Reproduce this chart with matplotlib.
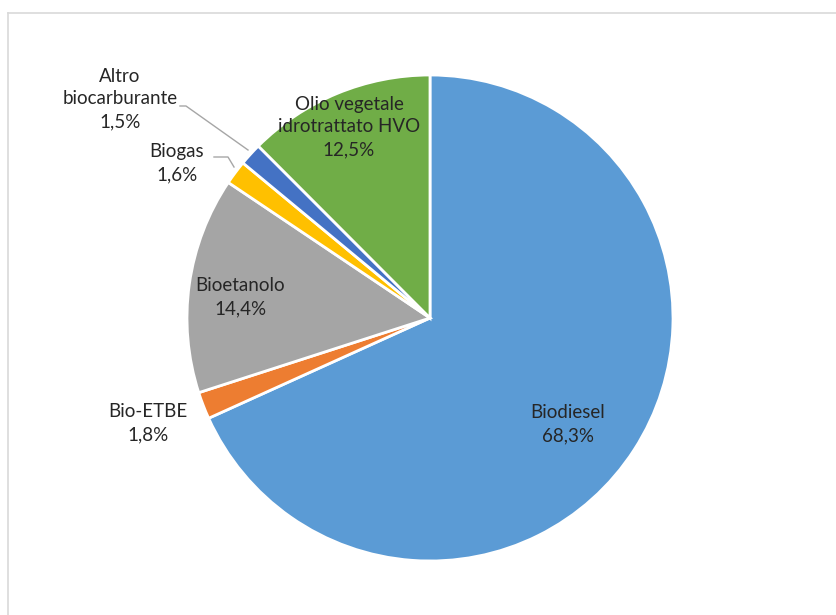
import matplotlib
matplotlib.use("Agg")
import matplotlib.pyplot as plt
from matplotlib.lines import Line2D

categories = ["Biodiesel", "Bio-ETBE", "Bioetanolo", "Biogas", "Altro\nbiocarburante", "Olio vegetale\nidrotrattato HVO"]
values = [68.3, 1.8, 14.4, 1.6, 1.5, 12.5]
value_labels = ["68,3%", "1,8%", "14,4%", "1,6%", "1,5%", "12,5%"]
colors = ["#5B9BD5", "#ED7D31", "#A5A5A5", "#FFC000", "#4472C4", "#70AD47"]

plt.rcParams['font.family'] = ['Lato', 'DejaVu Sans']

W, H = 837, 615
fig = plt.figure(figsize=(W / 100, H / 100), dpi=100)

cx, cy, r = 430, 318, 243
ax = fig.add_axes([(cx - r) / W, (H - cy - r) / H, 2 * r / W, 2 * r / H])
ax.pie(values, colors=colors, startangle=90, counterclock=False,
       wedgeprops=dict(edgecolor="white", linewidth=2), radius=1)
ax.set_xlim(-1, 1)
ax.set_ylim(-1, 1)
ax.set_aspect("equal")
ax.axis("off")

def px(x, y):
    return ((x - cx) / r, (cy - y) / r)

# label positions (in pixel coords, converted to data)
label_pos = [(568, 424), (148, 423), (240, 297), (177, 163), (120, 99), (349, 127)]
txtcol = "#262626"
for cat, vl, (lx, ly) in zip(categories, value_labels, label_pos):
    x, y = px(lx, ly)
    ax.text(x, y, f"{cat}\n{vl}", ha="center", va="center", fontsize=13.5,
            color=txtcol, linespacing=1.42, clip_on=False)

# leader lines
lc = "#A6A6A6"
for pts in [[(180, 106), (186, 106), (248, 150)], [(214, 157), (228, 157), (234, 167)]]:
    xs, ys = zip(*[px(a, b) for a, b in pts])
    ax.add_line(Line2D(xs, ys, color=lc, linewidth=1, clip_on=False))

# outer frame (partially visible)
fig.add_artist(Line2D([8.5 / W, 1.0], [1 - 12.5 / H, 1 - 12.5 / H], transform=fig.transFigure, color="#D9D9D9", linewidth=1.2))
fig.add_artist(Line2D([8.5 / W, 8.5 / W], [0, 1 - 12.5 / H], transform=fig.transFigure, color="#D9D9D9", linewidth=1.2))

fig.savefig("out.png", dpi=100, facecolor="white")
